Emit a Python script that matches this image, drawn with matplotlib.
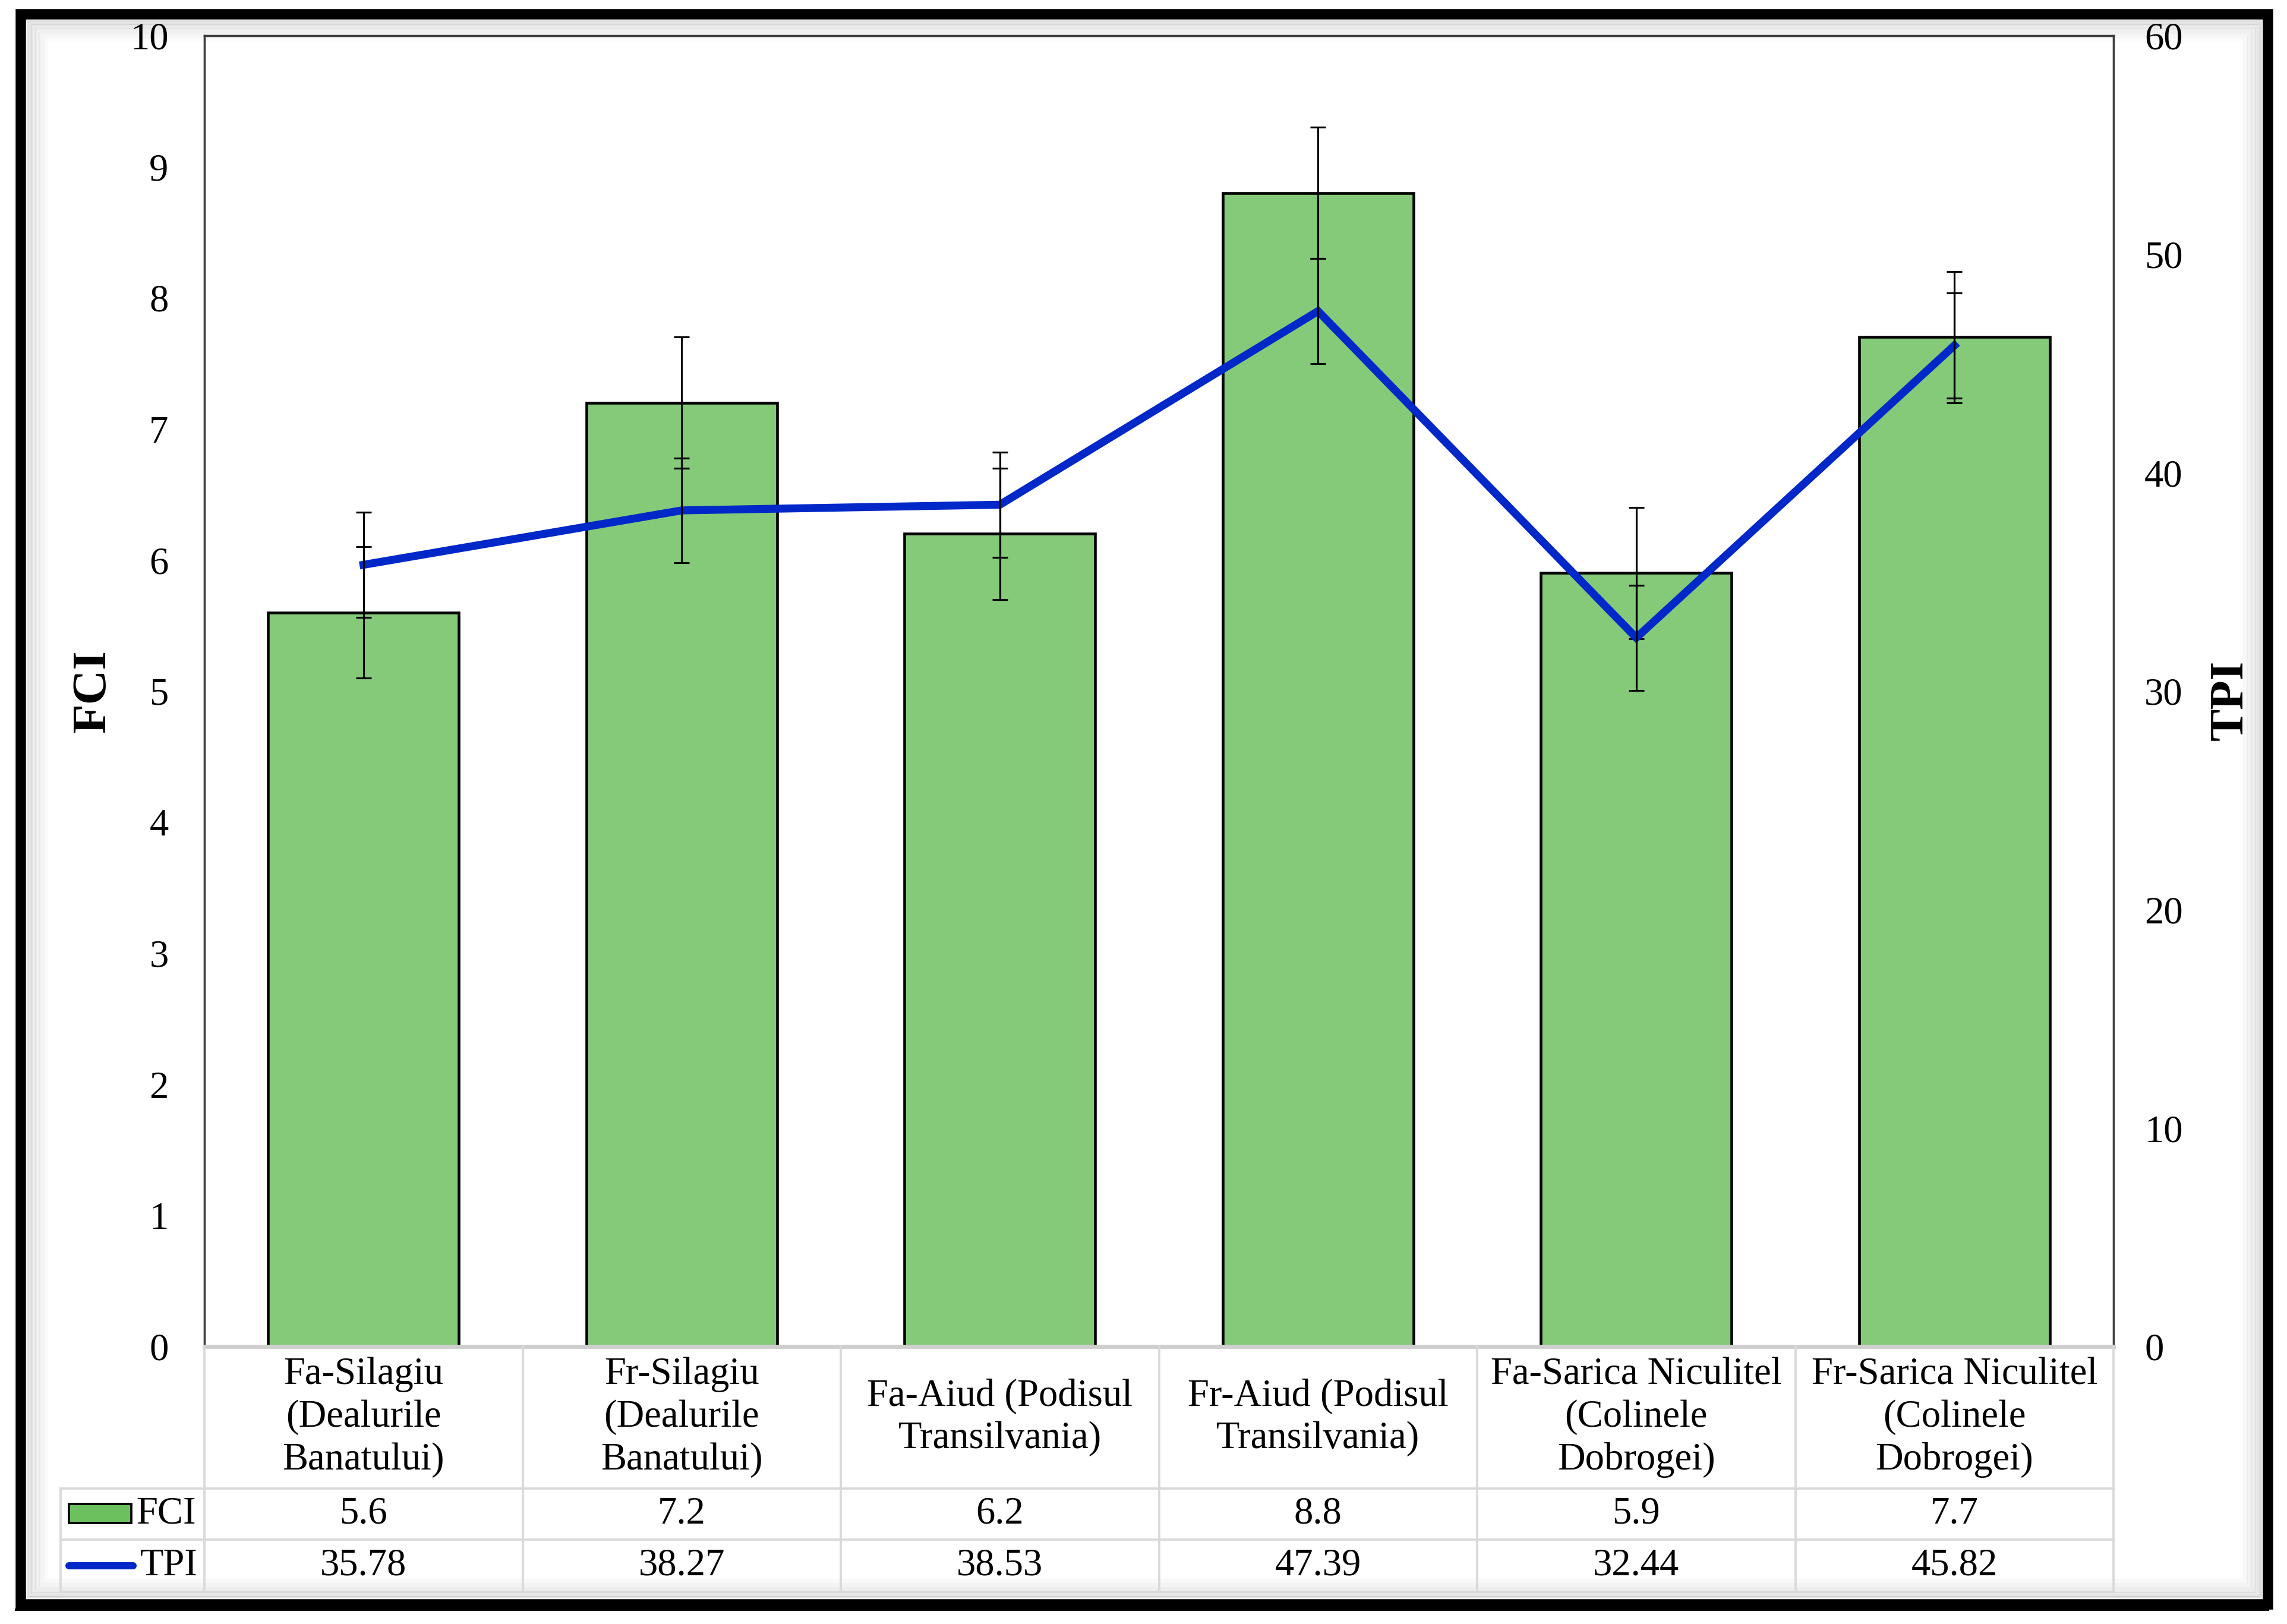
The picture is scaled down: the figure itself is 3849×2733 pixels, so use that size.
import matplotlib
matplotlib.use("Agg")
import matplotlib.pyplot as plt
from matplotlib.lines import Line2D
from matplotlib.patches import Rectangle
from matplotlib.transforms import blended_transform_factory
import numpy as np

# ---------------- data ----------------
categories = [
    "Fa-Silagiu\n(Dealurile\nBanatului)",
    "Fr-Silagiu\n(Dealurile\nBanatului)",
    "Fa-Aiud (Podisul\nTransilvania)",
    "Fr-Aiud (Podisul\nTransilvania)",
    "Fa-Sarica Niculitel\n(Colinele\nDobrogei)",
    "Fr-Sarica Niculitel\n(Colinele\nDobrogei)",
]
fci = [5.6, 7.2, 6.2, 8.8, 5.9, 7.7]
fci_err = [0.5, 0.5, 0.5, 0.5, 0.5, 0.5]
tpi = [35.78, 38.27, 38.53, 47.39, 32.44, 45.82]
tpi_err = [2.4, 2.4, 2.4, 2.4, 2.4, 2.4]
fci_labels = ["5.6", "7.2", "6.2", "8.8", "5.9", "7.7"]
tpi_labels = ["35.78", "38.27", "38.53", "47.39", "32.44", "45.82"]
fci_ticks = list(range(0, 11))
tpi_ticks = list(range(0, 61, 10))

# ---------------- style ----------------
GREEN = "#84CA78"
BLUE = "#0028C8"
GRID = "#D9D9D9"
FONT = ["Liberation Serif", "DejaVu Serif"]
plt.rcParams["font.family"] = FONT
FS = 15.5

W, H = 3849, 2733
DPI = 300
fig = plt.figure(figsize=(W / DPI, H / DPI), dpi=DPI)
fig.patch.set_facecolor("white")

def fx(px):
    return px / W

def fy(py):
    return 1 - py / H

L, R, T, B = 344, 3557, 60, 2266
ax = fig.add_axes([fx(L), fy(B), fx(R) - fx(L), (B - T) / H])
ax2 = ax.twinx()

x = np.arange(len(categories))

ax.bar(x, fci, width=0.6, color=GREEN, edgecolor="black", linewidth=1.1, zorder=2)
ax.errorbar(x, fci, yerr=fci_err, fmt="none", ecolor="black", elinewidth=0.75,
            capsize=3.1, capthick=0.75, zorder=3)

ax2.plot(x, tpi, color=BLUE, lw=3.2, solid_joinstyle="miter", zorder=2)
ax2.errorbar(x, tpi, yerr=tpi_err, fmt="none", ecolor="black", elinewidth=0.75,
             capsize=3.1, capthick=0.75, zorder=3)

ax.set_xlim(-0.5, len(categories) - 0.5)
ax.set_ylim(0, 10)
ax2.set_ylim(0, 60)
ax.set_yticks(fci_ticks)
ax2.set_yticks(tpi_ticks)
ax.set_xticks([])
ax.tick_params(axis="y", length=0, pad=14.5, labelsize=FS)
ax2.tick_params(axis="y", length=0, pad=12.5, labelsize=FS)

for a in (ax, ax2):
    for s in ("left", "right", "top"):
        a.spines[s].set_color("#404040")
        a.spines[s].set_linewidth(0.8)
    a.spines["bottom"].set_color("#CFCFCF")
    a.spines["bottom"].set_linewidth(1.6)

ax.set_ylabel("FCI", fontsize=19.5, fontweight="bold", rotation=90)
ax.yaxis.set_label_coords(-0.0467, 0.5)
ax2.set_ylabel("TPI", fontsize=19.5, fontweight="bold", rotation=90)
ax2.yaxis.set_label_coords(1.050, 0.493)

# ---------------- data table ----------------
tr = blended_transform_factory(ax.transData, fig.transFigure)
Y_HDR, Y_R1, Y_R2 = 2505, 2591, 2679
LEG_L = 102

for yy in (Y_HDR, Y_R1, Y_R2):
    fig.add_artist(Line2D([fx(LEG_L), fx(R)], [fy(yy), fy(yy)], transform=fig.transFigure,
                          color=GRID, lw=0.9))
for k in range(len(categories) + 1):
    fig.add_artist(Line2D([k - 0.5, k - 0.5], [fy(B), fy(Y_R2)], transform=tr,
                          color=GRID, lw=0.9))
fig.add_artist(Line2D([fx(LEG_L), fx(LEG_L)], [fy(Y_HDR), fy(Y_R2)],
                      transform=fig.transFigure, color=GRID, lw=0.9))

for i, cat in enumerate(categories):
    fig.text(i, fy((B + Y_HDR) / 2), cat, transform=tr, ha="center", va="center",
             fontsize=FS, linespacing=1.27, family=FONT)
    fig.text(i, fy((Y_HDR + Y_R1) / 2), fci_labels[i], transform=tr, ha="center",
             va="center", fontsize=FS, family=FONT)
    fig.text(i, fy((Y_R1 + Y_R2) / 2), tpi_labels[i], transform=tr, ha="center",
             va="center", fontsize=FS, family=FONT)

# legend keys in table
fig.add_artist(Rectangle((fx(116), fy(2563)), fx(221) - fx(116), (2563 - 2531) / H,
                         transform=fig.transFigure, facecolor="#6CC05E",
                         edgecolor="black", lw=0.9))
fig.text(fx(229), fy((Y_HDR + Y_R1) / 2), "FCI", ha="left", va="center",
         fontsize=FS, family=FONT)
fig.add_artist(Line2D([fx(116), fx(224)], [fy(2635), fy(2635)], transform=fig.transFigure,
                      color=BLUE, lw=2.9, solid_capstyle="round"))
fig.text(fx(236), fy((Y_R1 + Y_R2) / 2), "TPI", ha="left", va="center",
         fontsize=FS, family=FONT)

# ---------------- outer frame with soft shadow ----------------
FL, FR, FT, FB = 35, 3817, 24, 2700
for i in range(10):
    inset = 12 + i * 3.5
    a = 0.12 * (1 - i / 10)
    fig.add_artist(Rectangle((fx(FL + inset), fy(FB - inset)),
                             (FR - FL - 2 * inset) / W, (FB - FT - 2 * inset) / H,
                             transform=fig.transFigure, fill=False,
                             edgecolor="black", alpha=a, lw=0.9))
fig.add_artist(Rectangle((fx(FL), fy(FB)), (FR - FL) / W, (FB - FT) / H,
                         transform=fig.transFigure, fill=False, edgecolor="black", lw=4.2))
fig.add_artist(Line2D([fx(FL - 8), fx(FR)], [fy(2709), fy(2709)], transform=fig.transFigure,
                      color="black", lw=1.0))

fig.savefig("out.png", dpi=DPI, facecolor="white")
